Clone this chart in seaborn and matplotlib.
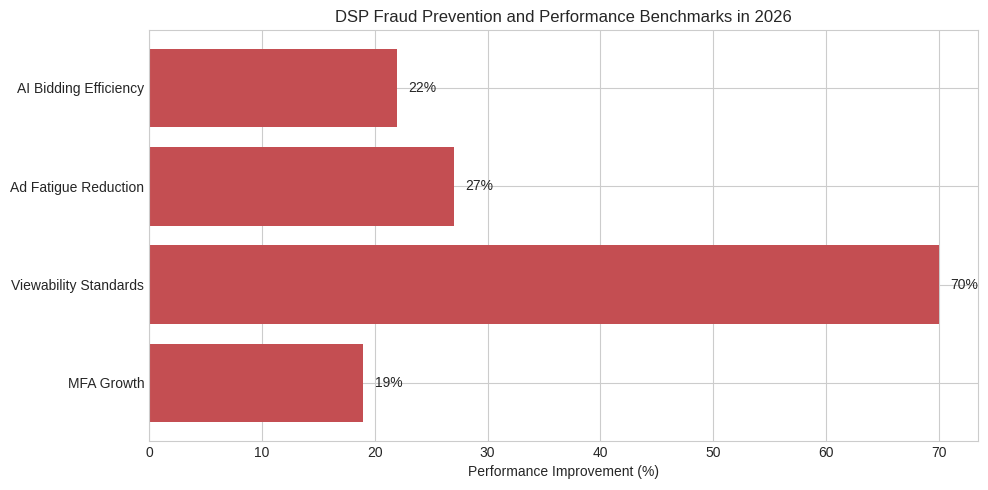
import matplotlib
matplotlib.use("Agg")
import matplotlib.pyplot as plt
import seaborn as sns
import pandas as pd

# chart data
categories = ["AI Bidding Efficiency", "Ad Fatigue Reduction", "Viewability Standards", "MFA Growth"]
improvement = [22, 27, 70, 19]

BAR_COLOR = "#c44e52"

sns.set_style("whitegrid")
plt.rcParams['font.family'] = ['Liberation Sans', 'DejaVu Sans']

df = pd.DataFrame({"category": categories, "improvement": improvement})

fig, ax = plt.subplots(figsize=(9.88, 4.9), dpi=100)
sns.barplot(data=df,
            x="improvement",
            y="category",
            orient="h",
            color=BAR_COLOR,
            saturation=1,
            width=0.8,
            linewidth=0,
            ax=ax)

for i, val in enumerate(improvement):
    ax.text(val + 1, i, f"{val}%", va="center", ha="left", fontsize=10, color="#262626")

n = len(categories)
ax.set_ylim(n - 1 + 0.59, -0.59)
ax.set_xlim(0, max(improvement) * 1.05)
ax.set_title("DSP Fraud Prevention and Performance Benchmarks in 2026", fontsize=12)
ax.set_xlabel("Performance Improvement (%)", fontsize=10)
ax.set_ylabel("")
ax.tick_params(labelsize=10, length=0, pad=3.5)
ax.grid(True, axis="both", color="#cccccc", linewidth=0.8)
ax.set_axisbelow(True)
for spine in ax.spines.values():
    spine.set_visible(True)
    spine.set_color("#cccccc")

plt.subplots_adjust(left=0.151, right=0.99, top=0.939, bottom=0.1)
plt.savefig("out.png", dpi=100)
plt.close()
